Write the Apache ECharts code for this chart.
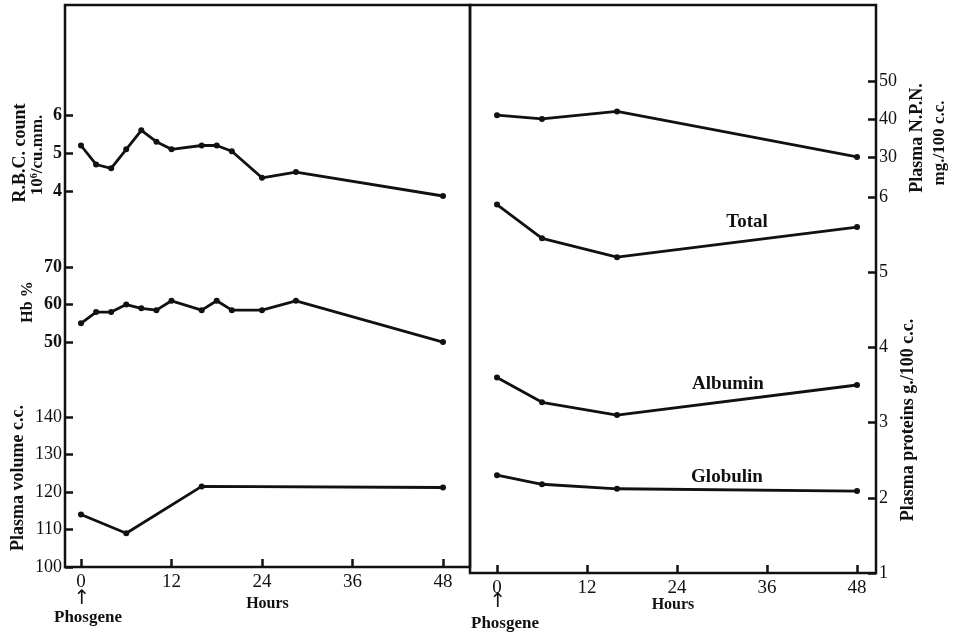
<!DOCTYPE html>
<html>
<head>
<meta charset="utf-8">
<title>Phosgene</title>
<script src="https://cdn.jsdelivr.net/npm/echarts@6/dist/echarts.min.js"></script>
<style>
html,body{margin:0;padding:0;background:#fff;}
#chart{width:955px;height:634px;}
</style>
</head>
<body>
<div id="chart"></div>
<script>
// hours after exposure
var hoursTicks = [0, 12, 24, 36, 48]

// left panel
var rbcHours = [0, 2, 4, 6, 8, 10, 12, 16, 18, 20, 24, 28.5, 48]
var rbcCount = [5.2, 4.7, 4.6, 5.1, 5.6, 5.3, 5.1, 5.2, 5.2, 5.05, 4.35, 4.5, 3.87]
var hbHours = [0, 2, 4, 6, 8, 10, 12, 16, 18, 20, 24, 28.5, 48]
var hbPct = [55, 58, 58, 60, 59, 58.5, 61, 58.5, 61, 58.5, 58.5, 61, 50]
var volHours = [0, 6, 16, 48]
var plasmaVol = [114, 109, 121.5, 121.2]

// right panel
var protHours = [0, 6, 16, 48]
var npn = [41, 40, 42, 30]
var totalProt = [5.9, 5.45, 5.2, 5.6]
var albumin = [3.6, 3.27, 3.1, 3.5]
var globulin = [2.3, 2.18, 2.12, 2.09]

var rbcTicks = [4, 5, 6]
var hbTicks = [50, 60, 70]
var volTicks = [100, 110, 120, 130, 140]
var npnTicks = [30, 40, 50]
var protTicks = [1, 2, 3, 4, 5, 6]

var serif = '"Liberation Serif", "DejaVu Serif", serif'
var ink = '#111'

function pairs(xs, ys){
    var out = []
    for(var i = 0; i < xs.length; i++){
        out.push([xs[i], ys[i]])
    }
    return out
}

function yAx(grid, pos, min, max, ticks, bold){
    return {
        type: 'value',
        gridIndex: grid,
        position: pos,
        min: min,
        max: max,
        axisLine: {show: false, onZero: false},
        splitLine: {show: false},
        axisTick: {show: true, inside: true, length: 8, customValues: ticks,
            lineStyle: {color: ink, width: 2.5}},
        axisLabel: {customValues: ticks, color: ink, fontFamily: serif,
            fontSize: 18, fontWeight: bold ? 'bold' : 'normal', margin: 3}
    }
}

function xAx(grid, min, max, gap){
    return {
        type: 'value',
        gridIndex: grid,
        min: min,
        max: max,
        name: 'Hours',
        nameLocation: 'middle',
        nameGap: gap,
        nameMoveOverlap: false,
        nameTextStyle: {color: ink, fontFamily: serif, fontSize: 16, fontWeight: 'bold'},
        axisLine: {show: false, onZero: false},
        splitLine: {show: false},
        axisTick: {show: true, inside: true, length: 8, customValues: hoursTicks,
            lineStyle: {color: ink, width: 2.5}},
        axisLabel: {customValues: hoursTicks, color: ink, fontFamily: serif,
            fontSize: 19, margin: 6}
    }
}

function line(xi, yi, xs, ys){
    return {
        type: 'line',
        xAxisIndex: xi,
        yAxisIndex: yi,
        data: pairs(xs, ys),
        symbol: 'circle',
        symbolSize: 6,
        showSymbol: true,
        lineStyle: {color: ink, width: 2.8},
        itemStyle: {color: ink},
        silent: true
    }
}

function txt(x, y, s, size, rot, font){
    return {
        type: 'text',
        x: x,
        y: y,
        rotation: rot ? Math.PI / 2 : 0,
        style: {text: s, fill: ink, font: font || ('bold ' + size + 'px ' + serif),
            align: 'center', verticalAlign: 'middle'}
    }
}

var arrowFont = 'normal 20px "DejaVu Sans", sans-serif'

var chart = echarts.init(document.getElementById('chart'))
var option = {
    animation: false,
    backgroundColor: '#fff',
    grid: [
        {left: 65, right: 485, top: 5, bottom: 67, show: true,
            borderColor: ink, borderWidth: 2.5},
        {left: 470, right: 79, top: 5, bottom: 61, show: true,
            borderColor: ink, borderWidth: 2.5}
    ],
    xAxis: [
        xAx(0, -2.12, 51.58, 29),
        xAx(1, -3.6, 50.53, 24)
    ],
    yAxis: [
        yAx(0, 'left', -5.9, 8.9, rbcTicks, true),
        yAx(0, 'left', -10, 139.9, hbTicks, true),
        yAx(0, 'left', 100, 249.9, volTicks, false),
        yAx(1, 'right', -79.5, 70, npnTicks, false),
        yAx(1, 'right', 1, 8.553, protTicks, false)
    ],
    series: [
        line(0, 0, rbcHours, rbcCount),
        line(0, 1, hbHours, hbPct),
        line(0, 2, volHours, plasmaVol),
        line(1, 3, protHours, npn),
        line(1, 4, protHours, totalProt),
        line(1, 4, protHours, albumin),
        line(1, 4, protHours, globulin)
    ],
    graphic: [
        txt(20, 153, 'R.B.C. count', 18, true),
        txt(38, 155, '10\u2076/cu.mm.', 17, true),
        txt(28, 302, 'Hb %', 16, true),
        txt(18, 478, 'Plasma volume c.c.', 18, true),
        txt(917, 138, 'Plasma N.P.N.', 18, true),
        txt(940, 143, 'mg./100 c.c.', 17, true),
        txt(908, 420, 'Plasma proteins g./100 c.c.', 18, true),
        txt(747, 222, 'Total', 19, false),
        txt(728, 384, 'Albumin', 19, false),
        txt(727, 477, 'Globulin', 19, false),
        txt(82, 599, '\u2191', 20, false, arrowFont),
        txt(88, 618, 'Phosgene', 17, false),
        txt(498, 602, '\u2191', 20, false, arrowFont),
        txt(505, 624, 'Phosgene', 17, false)
    ]
}
chart.setOption(option)
</script>
</body>
</html>
